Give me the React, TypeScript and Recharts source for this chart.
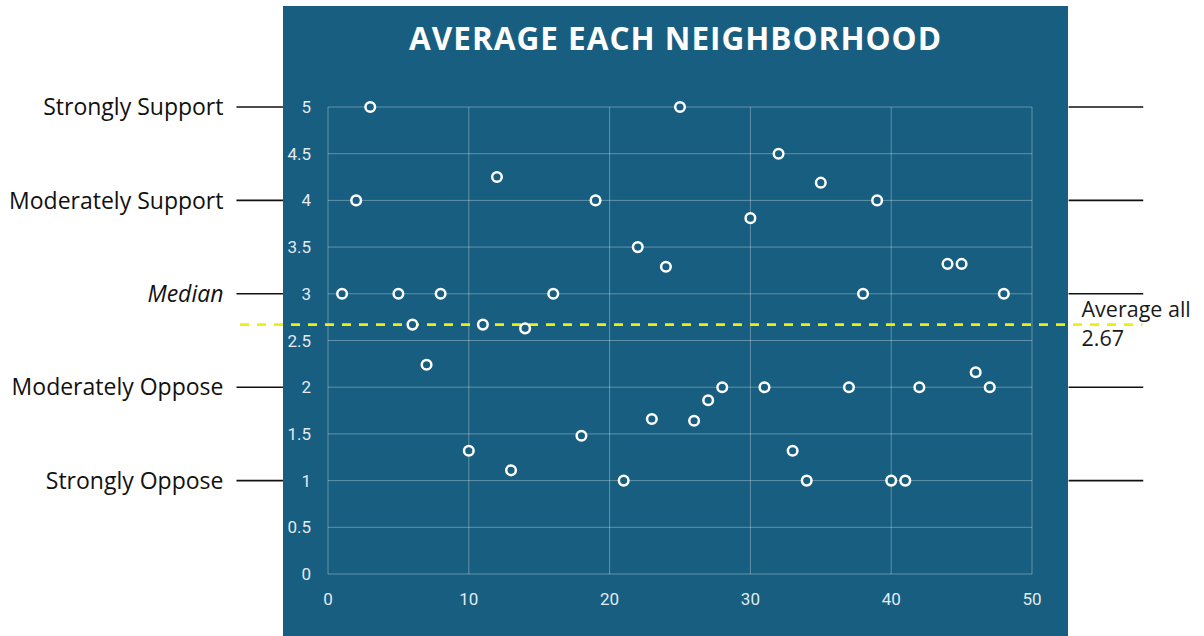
import { ScatterChart, Scatter, XAxis, YAxis, CartesianGrid, ReferenceLine } from 'recharts'

// neighborhood number -> average response (1 = strongly oppose ... 5 = strongly support)
const neighborhoods = [1, 2, 3, 5, 6, 7, 8, 10, 11, 12, 13, 14, 16, 18, 19, 21, 22, 23, 24, 25, 26, 27, 28, 30, 31, 32, 33, 34, 35, 37, 38, 39, 40, 41, 42, 44, 45, 46, 47, 48]
const averages = [3, 4, 5, 3, 2.67, 2.24, 3, 1.32, 2.67, 4.25, 1.11, 2.63, 3, 1.48, 4, 1, 3.5, 1.66, 3.29, 5, 1.64, 1.86, 2, 3.81, 2, 4.5, 1.32, 1, 4.19, 2, 3, 4, 1, 1, 2, 3.32, 3.32, 2.16, 2, 3]

const xTicks = [0, 10, 20, 30, 40, 50]
const yTicks = [0, 0.5, 1, 1.5, 2, 2.5, 3, 3.5, 4, 4.5, 5]

const scaleLabels = ['Strongly Support', 'Moderately Support', 'Median', 'Moderately Oppose', 'Strongly Oppose']
const scaleValues = [5, 4, 3, 2, 1]

const overallAverage = 2.67

const data = neighborhoods.map((n, i) => ({ x: n, y: averages[i] }))

const PANEL = '#175e80'
const TICK = { fill: '#e3eaf0', fontSize: 17, fontFamily: 'Roboto' }

function HollowDot(props: { cx?: number; cy?: number }) {
  const { cx, cy } = props
  if (cx == null || cy == null) return null
  return <circle cx={cx} cy={cy} r={4.8} fill={PANEL} stroke="#ffffff" strokeWidth={2.5} />
}

function AverageLabel(props: { viewBox?: { x: number; y: number; width: number; height: number } }) {
  const vb = props.viewBox
  if (!vb) return null
  const x = vb.x + vb.width - 61
  return (
    <text x={x} fontFamily="Open Sans" fontSize={21.5} fill="#1a1a1a">
      <tspan x={x} y={vb.y - 8}>Average all</tspan>
      <tspan x={x} y={vb.y + 21}>{overallAverage}</tspan>
    </text>
  )
}

export default function App() {
  return (
    <div style={{ position: 'absolute', left: 0, top: 0, width: 1204, height: 636, background: '#fff' }}>
      <div style={{ position: 'absolute', left: 283, top: 6, width: 785, height: 630, background: PANEL }} />
      <div
        style={{
          position: 'absolute',
          left: 283,
          top: 16,
          width: 785,
          textAlign: 'center',
          color: '#fff',
          fontFamily: 'Open Sans',
          fontWeight: 700,
          fontSize: 31.5,
          letterSpacing: 1,
        }}
      >
        AVERAGE EACH NEIGHBORHOOD
      </div>
      <div style={{ position: 'absolute', left: 0, top: 0 }}>
        <ScatterChart width={1204} height={636} margin={{ top: 107, right: 172, bottom: 32, left: 283 }}>
          <CartesianGrid stroke="rgba(255,255,255,0.32)" />
          <XAxis
            type="number"
            dataKey="x"
            domain={[0, 50]}
            ticks={xTicks}
            axisLine={false}
            tickLine={false}
            tickSize={0}
            tickMargin={19}
            height={30}
            tick={TICK}
          />
          <YAxis
            type="number"
            dataKey="y"
            domain={[0, 5]}
            ticks={yTicks}
            axisLine={false}
            tickLine={false}
            tickSize={0}
            tickMargin={17}
            width={45}
            tick={TICK}
          />
          {scaleValues.map((v, i) => (
            <ReferenceLine
              key={'l' + v}
              segment={[{ x: -6.5, y: v }, { x: -3.2, y: v }]}
              ifOverflow="visible"
              stroke="#111"
              strokeWidth={1.6}
              label={{
                value: scaleLabels[i],
                position: 'left',
                offset: 13,
                fill: '#111',
                fontSize: 23,
                fontFamily: 'Open Sans',
                fontStyle: scaleLabels[i] === 'Median' ? 'italic' : 'normal',
              }}
            />
          ))}
          {scaleValues.map((v) => (
            <ReferenceLine
              key={'r' + v}
              segment={[{ x: 52.6, y: v }, { x: 57.9, y: v }]}
              ifOverflow="visible"
              stroke="#111"
              strokeWidth={1.6}
            />
          ))}
          <ReferenceLine
            segment={[{ x: -6.25, y: overallAverage }, { x: 57.85, y: overallAverage }]}
            ifOverflow="visible"
            stroke="#eeee10"
            strokeWidth={2.6}
            strokeDasharray="9 8"
            label={<AverageLabel />}
          />
          <Scatter data={data} shape={<HollowDot />} isAnimationActive={false} />
        </ScatterChart>
      </div>
    </div>
  )
}
